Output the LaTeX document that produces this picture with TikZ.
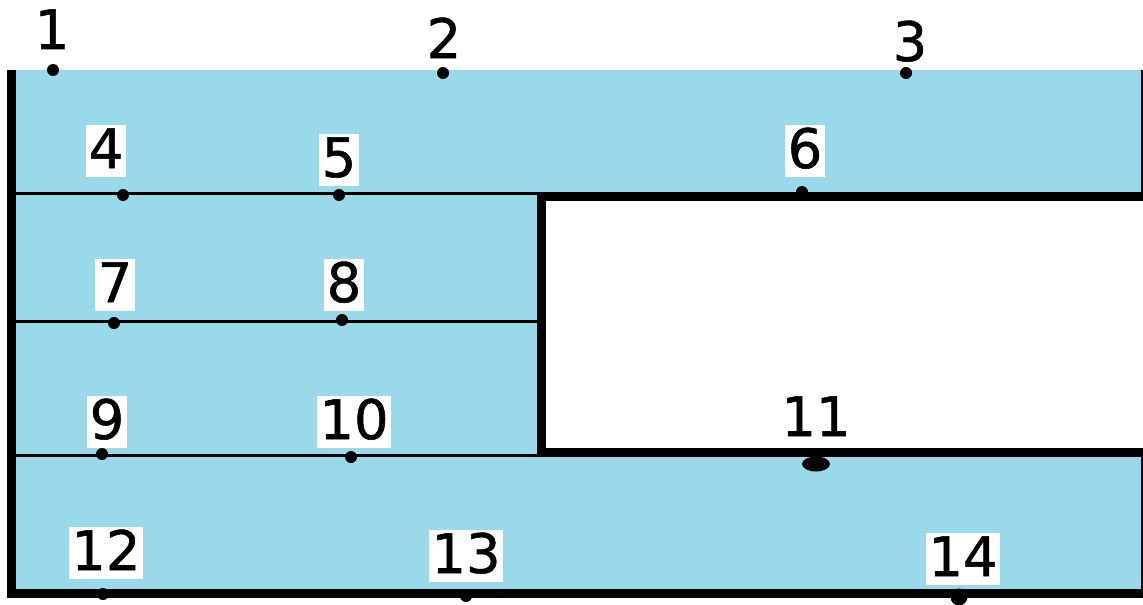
\documentclass[tikz,border=0pt]{standalone}
\usepackage{fontspec}
\setmainfont[FakeBold=1]{DejaVu Sans}
\usetikzlibrary{shapes.geometric}
\definecolor{paintblue}{RGB}{153,217,234}

\begin{document}
\begin{tikzpicture}[
  x=0.02cm, y=-0.02cm,
  font=\fontsize{31}{36}\selectfont,
  num/.style={anchor=base, inner xsep=1.5pt, inner ysep=0pt,
              text height=0.86cm, text depth=0.18cm},
  wnum/.style={num, fill=white},
  dot/.style={circle, fill=black, inner sep=0pt, minimum size=0.24cm},
  blob/.style={ellipse, fill=black, inner sep=0pt, minimum width=0.56cm, minimum height=0.3cm},
  thickwall/.style={line width=5.1pt},
  thinwall/.style={line width=1.7pt},
  edgewall/.style={line width=1.1pt},
]
\useasboundingbox (0,0) rectangle (1143,605);

% regions
\fill[paintblue] (16,70) rectangle (1141,590);
\fill[white] (541,197) rectangle (1143,452);
\node[dot] (p6) at (802,192) {};

% walls
\draw[thinwall] (16,193.5) -- (541,193.5);
\draw[thinwall] (16,321.5) -- (541,321.5);
\draw[thinwall] (16,455.5) -- (541,455.5);
\draw[edgewall] (1142,70) -- (1142,196);
\draw[edgewall] (1142,452) -- (1142,590);
\draw[thickwall] (1143,196.5) -- (541.5,196.5) -- (541.5,452.5) -- (1143,452.5);
\draw[thickwall] (11.5,70) -- (11.5,598);
\draw[thickwall] (7,593.5) -- (1143,593.5);

% labels
\node[num] (l1) at (52,49) {1};
\node[num] (l2) at (444,58) {2};
\node[num] (l3) at (910,61) {3};
\node[wnum] (l4) at (106,168) {4};
\node[wnum] (l5) at (339,177) {5};
\node[wnum] (l6) at (805,168) {6};
\node[wnum] (l7) at (115,302) {7};
\node[wnum] (l8) at (344,302) {8};
\node[wnum] (l9) at (107,439) {9};
\node[wnum] (l10) at (354,439) {10};
\node[num] (l11) at (816,436) {11};
\node[wnum] (l12) at (106,570) {12};
\node[wnum] (l13) at (466,573) {13};
\node[wnum] (l14) at (963,576) {14};

% points
\node[dot] (p1) at (53,70) {};
\node[dot] (p2) at (443,73) {};
\node[dot] (p3) at (906,73) {};
\node[dot] (p4) at (123,195) {};
\node[dot] (p5) at (339,195) {};
\node[dot] (p7) at (114,323) {};
\node[dot] (p8) at (342,320) {};
\node[dot] (p9) at (102,454) {};
\node[dot] (p10) at (351,457) {};
\node[blob] (p11) at (816,464) {};
\node[dot] (p12) at (103,594) {};
\node[dot] (p13) at (466,596) {};
\node[dot, minimum size=0.34cm] (p14) at (959,597) {};
\end{tikzpicture}
\end{document}
